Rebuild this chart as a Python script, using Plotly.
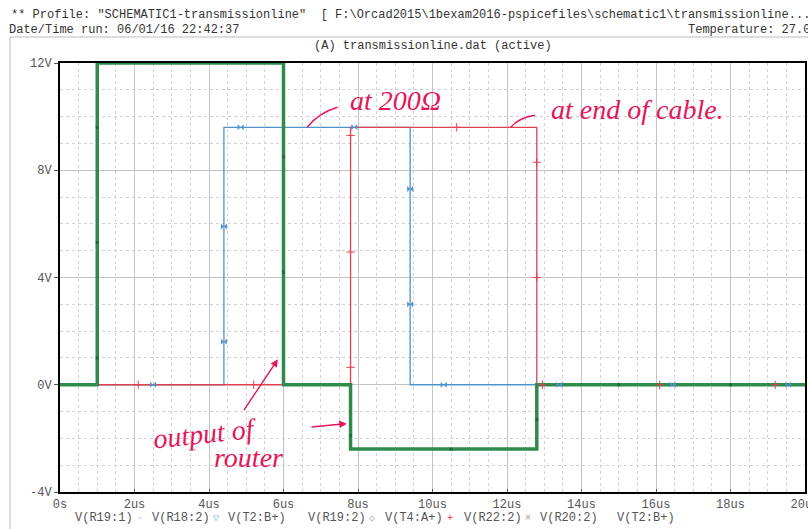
import plotly.graph_objects as go

# ---------------- data (time in microseconds, volts) ----------------
router_t = [0, 1, 1, 6, 6, 7.8, 7.8, 12.8, 12.8, 20]
router_v = [0, 0, 12, 12, 0, 0, -2.4, -2.4, 0, 0]

r200_t = [0, 4.4, 4.4, 9.4, 9.4, 20]
r200_v = [0, 0, 9.6, 9.6, 0, 0]

end_t = [0, 7.8, 7.8, 12.8, 12.8, 20]
end_v = [0, 0, 9.6, 9.6, 0, 0]

router_mk_t = [1, 1, 1, 6, 6, 7.8, 10.5, 12.8, 15.0, 18.0]
router_mk_v = [9.6, 5.3, 1.0, 8.5, 4.2, -1.9, -2.4, -1.3, 0, 0]

r200_mk_t = [2.5, 4.4, 4.4, 4.85, 7.9, 9.4, 9.4, 10.3, 13.4, 16.45, 19.55]
r200_mk_v = [0, 1.6, 5.9, 9.6, 9.6, 7.3, 3.0, 0, 0, 0, 0]

end_mk_t = [2.1, 5.2, 7.8, 7.8, 7.8, 10.65, 12.8, 12.8, 12.95, 16.1, 19.2]
end_mk_v = [0, 0, 0.65, 4.95, 9.3, 9.6, 8.3, 4.0, 0, 0, 0]

x_tickvals = [0, 2, 4, 6, 8, 10, 12, 14, 16, 18, 20]
x_ticktext = ["0s", "2us", "4us", "6us", "8us", "10us", "12us", "14us", "16us", "18us", "20us"]
y_tickvals = [-4, 0, 4, 8, 12]
y_ticktext = ["-4V", "0V", "4V", "8V", "12V"]

legend_names = ["V(R19:1)", "V(R18:2)", "V(T2:B+)", "V(R19:2)", "V(T4:A+)",
                "V(R22:2)", "V(R20:2)", "V(T2:B+)"]
legend_symbols = ["", "◦", "▽", "", "◇", "+", "×", ""]

header1 = '** Profile: "SCHEMATIC1-transmissionline"  [ F:\\Orcad2015\\1bexam2016-pspicefiles\\schematic1\\transmissionline....'
header2 = "Date/Time run: 06/01/16 22:42:37"
header3 = "Temperature: 27.0"
title_text = "(A) transmissionline.dat (active)"

# ---------------- colours ----------------
GREEN = "#2f8a4c"
BLUE = "#4f93cc"
RED = "#e2404e"
INK = "#e3175a"
MONO = "Liberation Mono, DejaVu Sans Mono, monospace"
HAND = "Liberation Serif, DejaVu Serif, serif"

W, H = 808, 529
PL, PR, PT, PB = 60, 805, 63, 492   # plot area in window pixels


def px(x):
    return (x - PL) / (PR - PL)


def py(y):
    return (PB - y) / (PB - PT)


fig = go.Figure()

fig.add_trace(go.Scatter(x=r200_t, y=r200_v, mode="lines",
                         line=dict(color=BLUE, width=1.3), showlegend=False))
fig.add_trace(go.Scatter(x=end_t, y=end_v, mode="lines",
                         line=dict(color=RED, width=1.3), showlegend=False))
fig.add_trace(go.Scatter(x=router_t, y=router_v, mode="lines",
                         line=dict(color=GREEN, width=3.5), showlegend=False))

fig.add_trace(go.Scatter(x=r200_mk_t, y=r200_mk_v, mode="markers",
                         marker=dict(symbol="bowtie", size=6, color=BLUE),
                         showlegend=False))
fig.add_trace(go.Scatter(x=end_mk_t, y=end_mk_v, mode="markers",
                         marker=dict(symbol="cross-thin", size=6,
                                     line=dict(color=RED, width=1)),
                         showlegend=False))
fig.add_trace(go.Scatter(x=router_mk_t, y=router_mk_v, mode="markers",
                         marker=dict(symbol="square", size=3, color="#1f6b38"),
                         showlegend=False))

# ---------------- handwritten notes ----------------
annotations = [
    dict(x=9.0, y=10.6, xref="x", yref="y", text="<i>at 200Ω</i>", showarrow=False,
         font=dict(family=HAND, size=28, color=INK)),
    dict(x=15.5, y=10.25, xref="x", yref="y", text="<i>at end of cable.</i>", showarrow=False,
         font=dict(family=HAND, size=28, color=INK)),
    dict(x=3.9, y=-1.8, xref="x", yref="y", text="<i>output of</i>", showarrow=False,
         textangle=-6, font=dict(family=HAND, size=28, color=INK)),
    dict(x=5.05, y=-2.7, xref="x", yref="y", text="<i>router</i>", showarrow=False,
         font=dict(family=HAND, size=28, color=INK)),
    dict(x=5.85, y=0.95, ax=4.91, ay=-1.0, xref="x", yref="y", axref="x", ayref="y",
         text="", showarrow=True, arrowhead=2, arrowsize=1, arrowwidth=1.5, arrowcolor=INK),
    dict(x=7.7, y=-1.45, ax=6.71, ay=-1.58, xref="x", yref="y", axref="x", ayref="y",
         text="", showarrow=True, arrowhead=2, arrowsize=1, arrowwidth=1.5, arrowcolor=INK),
]

# header & title
annotations += [
    dict(x=px(9), y=py(15), xref="paper", yref="paper", xanchor="left",
         yanchor="middle", text=header1, showarrow=False, font=dict(family=MONO, size=12, color="#333")),
    dict(x=px(7), y=py(30), xref="paper", yref="paper", xanchor="left",
         yanchor="middle", text=header2, showarrow=False, font=dict(family=MONO, size=12, color="#333")),
    dict(x=px(812), y=py(30), xref="paper", yref="paper", xanchor="right",
         yanchor="middle", text=header3, showarrow=False, font=dict(family=MONO, size=12, color="#333")),
    dict(x=0.5, y=py(46), xref="paper", yref="paper", xanchor="center",
         yanchor="middle", text=title_text, showarrow=False, font=dict(family=MONO, size=12, color="#333")),
]

# legend row (PSpice style)
name_px = [73, 150, 226, 306, 383, 462, 538, 615]
sym_px = [63, 140, 216, 296, 372, 450, 528, 605]
sym_col = ["#bbb", "#aaa", "#7fc0e8", "#bbb", "#aaa", RED, "#999", "#bbb"]
for nm, sy, npx, spx, sc in zip(legend_names, legend_symbols, name_px, sym_px, sym_col):
    annotations.append(dict(x=px(npx), y=py(518), xref="paper", yref="paper",
                            xanchor="left", yanchor="middle", text=nm, showarrow=False,
                            font=dict(family=MONO, size=12, color="#555")))
    if sy:
        annotations.append(dict(x=px(spx), y=py(518), xref="paper", yref="paper",
                                xanchor="center", yanchor="middle", text=sy, showarrow=False,
                                font=dict(family=MONO, size=10, color=sc)))

shapes = [
    # outer window frame
    dict(type="line", xref="paper", yref="paper", x0=px(10), x1=px(830),
         y0=py(37), y1=py(37), line=dict(color="#bbb", width=1)),
    dict(type="line", xref="paper", yref="paper", x0=px(10), x1=px(10),
         y0=py(37), y1=py(540), line=dict(color="#bbb", width=1)),
    # connector strokes of handwritten notes
    dict(type="path", xref="x", yref="y", path="M 6.63 9.6 Q 6.95 10.15 7.45 10.35",
         line=dict(color=INK, width=1.5)),
    dict(type="path", xref="x", yref="y", path="M 12.1 9.6 Q 12.3 9.95 12.75 10.05",
         line=dict(color=INK, width=1.5)),
]

fig.update_layout(
    width=W, height=H,
    margin=dict(l=PL, r=W - PR, t=PT, b=H - PB, pad=0, autoexpand=False),
    paper_bgcolor="white", plot_bgcolor="white",
    annotations=annotations, shapes=shapes,
    showlegend=False,
)

fig.update_xaxes(range=[0, 20], tickvals=x_tickvals, ticktext=x_ticktext,
                 automargin=False,
                 showline=True, mirror=True, linecolor="black", linewidth=2,
                 ticks="inside", ticklen=3, tickcolor="#555",
                 ticklabeloverflow="allow",
                 tickfont=dict(family=MONO, size=12, color="#555"),
                 showgrid=True, gridcolor="#c4c4c4", gridwidth=1, zeroline=False,
                 minor=dict(dtick=0.5, showgrid=True, gridcolor="#d2d2d2", griddash="dot"),
                 layer="below traces")
fig.update_yaxes(range=[-4, 12], tickvals=y_tickvals, ticktext=y_ticktext,
                 automargin=False,
                 showline=True, mirror=True, linecolor="black", linewidth=2,
                 ticks="outside", ticklen=4, tickcolor="#555",
                 tickfont=dict(family=MONO, size=12, color="#555"),
                 showgrid=True, gridcolor="#c4c4c4", gridwidth=1, zeroline=False,
                 minor=dict(dtick=1, showgrid=True, gridcolor="#d2d2d2", griddash="dot"),
                 layer="below traces")

fig.write_html(
    "out.html",
    config={"displayModeBar": False},
    post_script="document.body.style.margin='0px';document.body.style.overflow='hidden';"
                "document.documentElement.style.overflow='hidden';",
)
